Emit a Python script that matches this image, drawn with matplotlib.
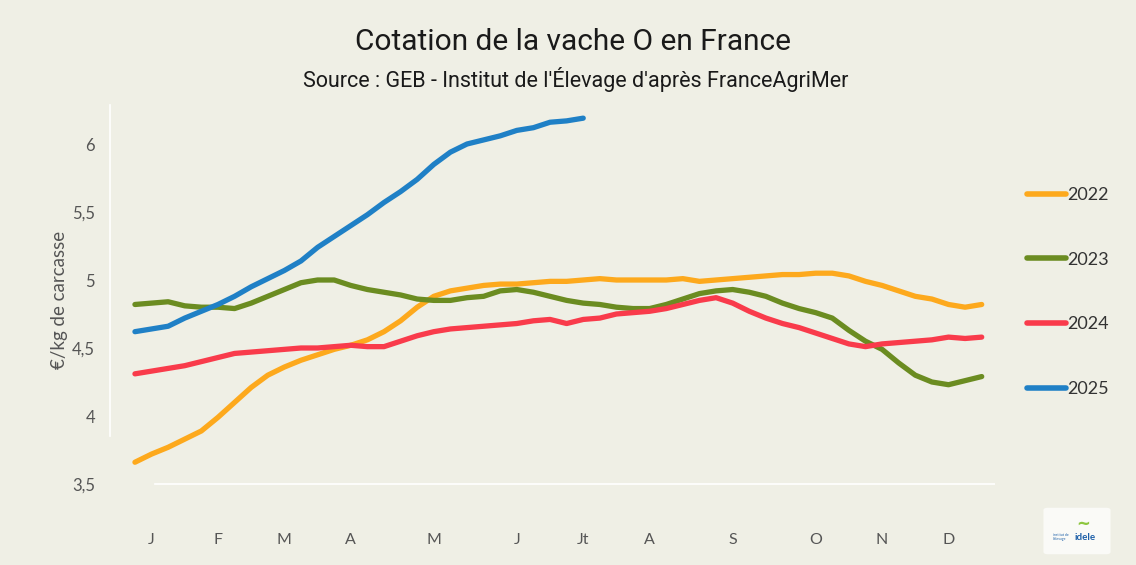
import matplotlib
matplotlib.use("Agg")
import matplotlib.pyplot as plt
from matplotlib.patches import FancyBboxPatch

# ---------------- data ----------------
weeks = list(range(1, 53))
month_labels = ["J", "F", "M", "A", "M", "J", "Jt", "A", "S", "O", "N", "D"]
month_weeks = [2, 6, 10, 14, 19, 24, 28, 32, 37, 42, 46, 50]
y_ticks = [3.5, 4, 4.5, 5, 5.5, 6]
y_tick_labels = ["3,5", "4", "4,5", "5", "5,5", "6"]

v2022 = [3.66, 3.72, 3.77, 3.83, 3.89, 3.99, 4.10, 4.21, 4.30, 4.36, 4.41, 4.45, 4.49,
         4.52, 4.56, 4.62, 4.70, 4.80, 4.88, 4.92, 4.94, 4.96, 4.97, 4.97, 4.98, 4.99,
         4.99, 5.00, 5.01, 5.00, 5.00, 5.00, 5.00, 5.01, 4.99, 5.00, 5.01, 5.02, 5.03,
         5.04, 5.04, 5.05, 5.05, 5.03, 4.99, 4.96, 4.92, 4.88, 4.86, 4.82, 4.80, 4.82]
v2023 = [4.82, 4.83, 4.84, 4.81, 4.80, 4.80, 4.79, 4.83, 4.88, 4.93, 4.98, 5.00, 5.00,
         4.96, 4.93, 4.91, 4.89, 4.86, 4.85, 4.85, 4.87, 4.88, 4.92, 4.93, 4.91, 4.88,
         4.85, 4.83, 4.82, 4.80, 4.79, 4.79, 4.82, 4.86, 4.90, 4.92, 4.93, 4.91, 4.88,
         4.83, 4.79, 4.76, 4.72, 4.63, 4.55, 4.49, 4.39, 4.30, 4.25, 4.23, 4.26, 4.29]
v2024 = [4.31, 4.33, 4.35, 4.37, 4.40, 4.43, 4.46, 4.47, 4.48, 4.49, 4.50, 4.50, 4.51,
         4.52, 4.51, 4.51, 4.55, 4.59, 4.62, 4.64, 4.65, 4.66, 4.67, 4.68, 4.70, 4.71,
         4.68, 4.71, 4.72, 4.75, 4.76, 4.77, 4.79, 4.82, 4.85, 4.87, 4.83, 4.77, 4.72,
         4.68, 4.65, 4.61, 4.57, 4.53, 4.51, 4.53, 4.54, 4.55, 4.56, 4.58, 4.57, 4.58]
v2025 = [4.62, 4.64, 4.66, 4.72, 4.77, 4.82, 4.88, 4.95, 5.01, 5.07, 5.14, 5.24, 5.32,
         5.40, 5.48, 5.57, 5.65, 5.74, 5.85, 5.94, 6.00, 6.03, 6.06, 6.10, 6.12, 6.16,
         6.17, 6.19]

series = [("2022", v2022, "#FDA91D"),
          ("2023", v2023, "#6B8C21"),
          ("2024", v2024, "#F93B4B"),
          ("2025", v2025, "#1F80C6")]

# ---------------- figure ----------------
BG = "#EFEFE5"
W, H = 1136, 565
fig = plt.figure(figsize=(W / 100, H / 100), dpi=100, facecolor=BG)
ax = fig.add_axes([120 / W, 1 - 500 / H, (995 - 120) / W, (500 - 100) / H])
ax.set_facecolor(BG)

for label, vals, col in series:
    ax.plot(weeks[:len(vals)], vals, color=col, lw=3.8, label=label,
            solid_capstyle="round", solid_joinstyle="round")

ax.set_xlim(0.1, 52.8)
ax.set_ylim(3.5 - 16 / 136, 6 + 44 / 136)

ax.axhline(3.5, color="white", lw=1.2, zorder=0, xmin=0.04)
for s in ["top", "right", "bottom"]:
    ax.spines[s].set_visible(False)
ax.spines["left"].set_color("white")
ax.spines["left"].set_linewidth(1.2)
ax.spines["left"].set_position(("outward", 7))
ax.spines["left"].set_bounds(3.85, 6.29)

tick_font = ["Lato", "DejaVu Sans"]
ax.set_yticks(y_ticks)
ax.set_yticklabels(y_tick_labels, fontsize=12, color="#555555", family=tick_font)
ax.set_xticks(month_weeks)
ax.set_xticklabels(month_labels, fontsize=11.5, color="#555555", family=tick_font)
ax.tick_params(axis="y", length=0, pad=11)
ax.tick_params(axis="x", length=0, pad=24)

ax.set_ylabel("€/kg de carcasse", fontsize=13.5, color="#555555",
              family=tick_font, labelpad=3)

# titles
title_font = ["Liberation Sans Narrow", "Roboto", "DejaVu Sans"]
fig.text(573 / W, 1 - 42 / H, "Cotation de la vache O en France", ha="center",
         va="center", fontsize=21.5, color="#1a1a1a", family=title_font)
fig.text(576 / W, 1 - 80 / H, "Source : GEB - Institut de l'Élevage d'après FranceAgriMer",
         ha="center", va="center", fontsize=15.5, color="#1a1a1a", family=title_font)

# legend
leg = ax.legend(loc="center left", bbox_to_anchor=(1027 / W, 1 - 292 / H),
                bbox_transform=fig.transFigure, frameon=False,
                handlelength=2.15, handletextpad=0.1, labelspacing=2.7,
                borderpad=0, borderaxespad=0, prop={"family": tick_font, "size": 13})
for t in leg.get_texts():
    t.set_color("#333333")
for h in leg.get_lines():
    h.set_linewidth(4)

# logo
fig.patches.append(FancyBboxPatch((1048 / W, 1 - 552 / H), 58 / W, 42 / H,
                                  boxstyle="round,pad=0.004", transform=fig.transFigure,
                                  facecolor="white", edgecolor="none", alpha=0.7))
fig.text(1075 / W, 1 - 537 / H, "idele", ha="left", va="center", fontsize=7,
         fontweight="bold", color="#1d5fa8", family=tick_font)
fig.text(1053 / W, 1 - 537 / H, "institut de\nl'élevage", ha="left", va="center",
         fontsize=2.5, color="#1d5fa8", family=tick_font, linespacing=0.9)
fig.text(1090 / W, 1 - 524 / H, "~", ha="right", va="center", fontsize=12,
         color="#8DC63F", fontweight="bold")

fig.savefig("out.png", dpi=100, facecolor=BG)
